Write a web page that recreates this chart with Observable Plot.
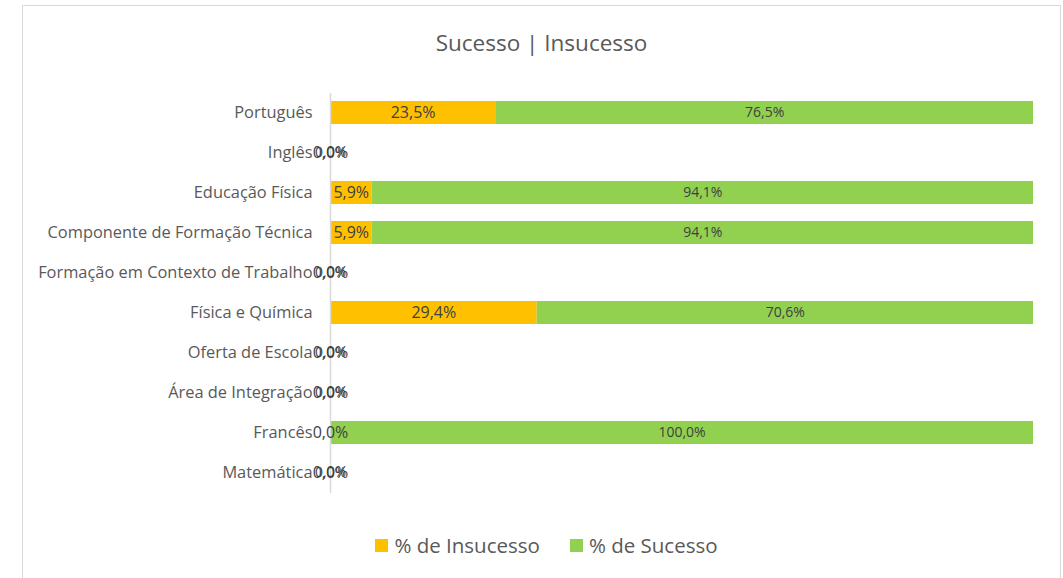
<!DOCTYPE html>
<html>
<head>
<meta charset="utf-8">
<script src="https://cdn.jsdelivr.net/npm/d3@7"></script>
<script src="https://cdn.jsdelivr.net/npm/@observablehq/plot@0.6"></script>
<style>
  html, body { margin: 0; padding: 0; background: #fff; }
  #wrap { position: relative; width: 1063px; height: 578px; overflow: hidden; font-family: "Open Sans", sans-serif; }
  #frame { position: absolute; left: 22px; top: 5px; width: 1039px; height: 640px; border: 1.5px solid #d9d9d9; box-sizing: border-box; }
  #title { position: absolute; left: 22px; width: 1039px; top: 27px; text-align: center; font-size: 22.5px; color: #595959; }
  #plot { position: absolute; left: 0; top: 80px; }
  #legend { position: absolute; left: 0; width: 1063px; top: 531px; display: flex; justify-content: center; gap: 30px; font-size: 20.5px; color: #595959; padding-left: 30px; box-sizing: border-box;}
  .item { display: flex; align-items: center; gap: 6px; }
  .sw { width: 13px; height: 13px; display: inline-block; }
</style>
</head>
<body>
<div id="wrap">
  <div id="frame"></div>
  <div id="title">Sucesso | Insucesso</div>
  <div id="plot"></div>
  <div id="legend"></div>
</div>
<script>
const categories = ["Português","Inglês","Educação Física","Componente de Formação Técnica","Formação em Contexto de Trabalho","Física e Química","Oferta de Escola","Área de Integração","Francês","Matemática"];
const insucesso = [23.5, 0, 5.9, 5.9, 0, 29.4, 0, 0, 0, 0];
const sucesso = [76.5, 0, 94.1, 94.1, 0, 70.6, 0, 0, 100, 0];
const seriesNames = ["% de Insucesso", "% de Sucesso"];
const seriesColors = ["#FFC000", "#92D050"];

const fmt = v => v.toFixed(1).replace(".", ",") + "%";

const data = [];
categories.forEach((c, i) => {
  data.push({cat: c, series: seriesNames[0], value: insucesso[i], start: 0});
  data.push({cat: c, series: seriesNames[1], value: sucesso[i], start: insucesso[i]});
});
const insData = data.filter(d => d.series === seriesNames[0]);
const sucData = data.filter(d => d.series === seriesNames[1]);

const chart = Plot.plot({
  width: 1063,
  height: 430,
  marginLeft: 330,
  marginRight: 30,
  marginTop: 13,
  marginBottom: 17,
  style: {fontFamily: "Open Sans, sans-serif", background: "transparent"},
  x: {domain: [0, 100], axis: null},
  y: {domain: categories, paddingInner: 0.42, paddingOuter: 0.21, label: null},
  color: {domain: seriesNames, range: seriesColors},
  marks: [
    Plot.axisY({tickSize: 0, tickPadding: 18, fontSize: 16.4, color: "#595959", label: null}),
    Plot.barX(data, Plot.stackX({x: "value", y: "cat", fill: "series", order: seriesNames})),
    Plot.ruleX([0], {stroke: "#d9d9d9", strokeWidth: 1.5}),
    Plot.text(insData, {x: d => d.start + d.value / 2, y: "cat", text: d => fmt(d.value), fontSize: 16, fill: "#404040"}),
    Plot.text(sucData, {x: d => d.start + d.value / 2, y: "cat", text: d => fmt(d.value), fontSize: 14, fill: "#404040"})
  ]
});
document.getElementById("plot").appendChild(chart);

const legend = document.getElementById("legend");
seriesNames.forEach((s, i) => {
  const it = document.createElement("div");
  it.className = "item";
  it.innerHTML = `<span class="sw" style="background:${seriesColors[i]}"></span><span>${s}</span>`;
  legend.appendChild(it);
});
</script>
</body>
</html>
